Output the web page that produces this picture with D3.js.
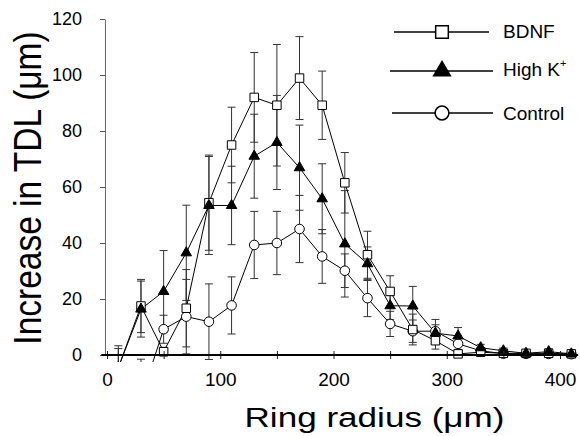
<!DOCTYPE html>
<html><head><meta charset="utf-8">
<script src="https://cdn.jsdelivr.net/npm/d3@7/dist/d3.min.js"></script>
<style>body{margin:0;background:#fff}svg{display:block}text{font-family:"Liberation Sans",Arial,sans-serif;fill:#000}</style>
</head><body><svg id="c" width="580" height="436"></svg>
<script>
const radius = [10,30,50,70,90,110,130,150,170,190,210,230,250,270,290,310,330,350,370,390,410];
const bdnf     = [-4.5,17.5,1.2,16.7,54.4,75,92,89.2,98.9,89.2,61.5,35.8,22.7,9.1,5.1,0.4,1,0.6,0.6,0.6,0.4];
const bdnfErr  = [7.8,9.5,1.5,13.8,17,13.5,16,21.7,14.8,12.2,10.8,8.4,5.6,5.5,3,0.8,1,0.8,0.8,0.8,0.6];
const highK    = [-4.5,16.4,22.7,36.5,53.4,53.4,71,75.9,66.9,55.8,39.7,32.6,17.6,17.5,7.8,6.8,2.6,1.5,0.6,1.2,0.4];
const highKErr = [6.8,10,14.6,17,17.5,14,15,16.8,15.2,12.5,19,6,5,7,3,3,1.2,1,0.8,1,0.6];
const control    = [null,-15.5,9.2,13.7,11.9,17.7,39.3,40,45,35.2,30.1,20.3,11.1,8.5,8.5,4,1.5,0.5,0.4,0.4,0.3];
const controlErr = [null,14,5,13.3,13.5,10.2,12,11.3,12,9.6,6,6.6,4.5,4,4.2,2,1,0.6,0.5,0.5,0.4];
const xTicks = [0,50,100,150,200,250,300,350,400];
const yTicks = [0,20,40,60,80,100,120];
const seriesNames = ["BDNF","High K","Control"];

const svg = d3.select("#c");
const x = d3.scaleLinear().domain([0,400]).range([107,560]);
const y = d3.scaleLinear().domain([0,120]).range([355,19]);

svg.append("defs").append("clipPath").attr("id","plotclip").append("rect")
  .attr("x",x(-6)).attr("y",0).attr("width",x(420)-x(-6)).attr("height",y(-2.5));

// y axis
const ya = svg.append("g").attr("transform",`translate(${x(-1.8)},0)`)
  .call(d3.axisLeft(y).tickValues(yTicks).tickSize(5).tickSizeOuter(0).tickPadding(18));
ya.select(".domain").attr("stroke","#666").attr("stroke-width",1);
ya.selectAll(".tick line").attr("stroke","#555");
ya.selectAll(".tick text").attr("font-size",18).attr("font-family","Liberation Sans, Arial, sans-serif").attr("fill","#000");

// titles
svg.append("text").attr("x",(x(0)+x(400))/2+41).attr("y",427).attr("text-anchor","middle")
  .attr("font-size",27).attr("textLength",260).attr("lengthAdjust","spacingAndGlyphs")
  .text("Ring radius (\u03bcm)");
svg.append("text").attr("transform","translate(41,188) scale(1.17,1) rotate(-90)")
  .attr("text-anchor","middle").attr("font-size",33.5).text("Increase in TDL (\u03bcm)");

const series = [
  {vals:control, err:controlErr, sym:d3.symbolCircle, size:72, fill:"#fff"},
  {vals:bdnf, err:bdnfErr, sym:d3.symbolSquare, size:72, fill:"#fff"},
  {vals:highK, err:highKErr, sym:d3.symbolTriangle, size:48, fill:"#000"}
];

const g = svg.append("g").attr("clip-path","url(#plotclip)");
// error bars
series.forEach(s => {
  radius.forEach((r,i) => {
    const v = s.vals[i], e = s.err[i];
    if (v == null) return;
    const cx = x(r), y1 = y(v - e), y2 = y(v + e);
    g.append("line").attr("x1",cx).attr("x2",cx).attr("y1",y1).attr("y2",y2).attr("stroke","#333").attr("stroke-width",1);
    [y1,y2].forEach(yy => g.append("line").attr("x1",cx-4).attr("x2",cx+4).attr("y1",yy).attr("y2",yy).attr("stroke","#333").attr("stroke-width",1));
  });
});
// lines
series.forEach(s => {
  const line = d3.line().defined((d,i)=>s.vals[i]!=null).x((d,i)=>x(radius[i])).y((d,i)=>y(s.vals[i]));
  g.append("path").attr("d",line(radius)).attr("fill","none").attr("stroke","#000").attr("stroke-width",1);
});
// markers
series.forEach(s => {
  radius.forEach((r,i) => {
    if (s.vals[i] == null) return;
    g.append("path").attr("d",d3.symbol().type(s.sym).size(s.size)())
      .attr("transform",`translate(${x(r)},${y(s.vals[i])})`)
      .attr("fill",s.fill).attr("stroke","#000").attr("stroke-width",1);
  });
});

// x axis (drawn over the plot)
const xa = svg.append("g").attr("transform",`translate(0,${y(0)})`)
  .call(d3.axisBottom(x).tickValues(xTicks).tickSize(4).tickSizeOuter(0).tickPadding(14)
    .tickFormat(d => d % 100 === 0 ? d : ""));
xa.select(".domain").remove();
xa.selectAll(".tick line").attr("y1",-4).attr("stroke","#222");
xa.selectAll(".tick text").attr("font-size",19).attr("font-family","Liberation Sans, Arial, sans-serif").attr("fill","#000");
xa.append("line").attr("x1",x(-5)).attr("x2",x(416)).attr("stroke","#000").attr("stroke-width",2);

// legend
const leg = [
  {name:seriesNames[0], sym:d3.symbolSquare, size:160, fill:"#fff", ly:32, ty:38, x1:394, x2:489},
  {name:seriesNames[1], sym:d3.symbolTriangle, size:120, fill:"#000", ly:71, ty:76, x1:390, x2:493},
  {name:seriesNames[2], sym:d3.symbolCircle, size:150, fill:"#fff", ly:113, ty:120, x1:392, x2:493}
];
leg.forEach((l,i) => {
  svg.append("line").attr("x1",l.x1).attr("x2",l.x2).attr("y1",l.ly).attr("y2",l.ly).attr("stroke","#000").attr("stroke-width",1.5);
  svg.append("path").attr("d",d3.symbol().type(l.sym).size(l.size)())
    .attr("transform",`translate(442,${l.ly})`).attr("fill",l.fill).attr("stroke","#000").attr("stroke-width",1.5);
  const t = svg.append("text").attr("x",503).attr("y",l.ty).attr("font-size",19).text(l.name);
  if (i === 1) t.append("tspan").attr("font-size",11).attr("dy",-9).text("+");
});
</script></body></html>
